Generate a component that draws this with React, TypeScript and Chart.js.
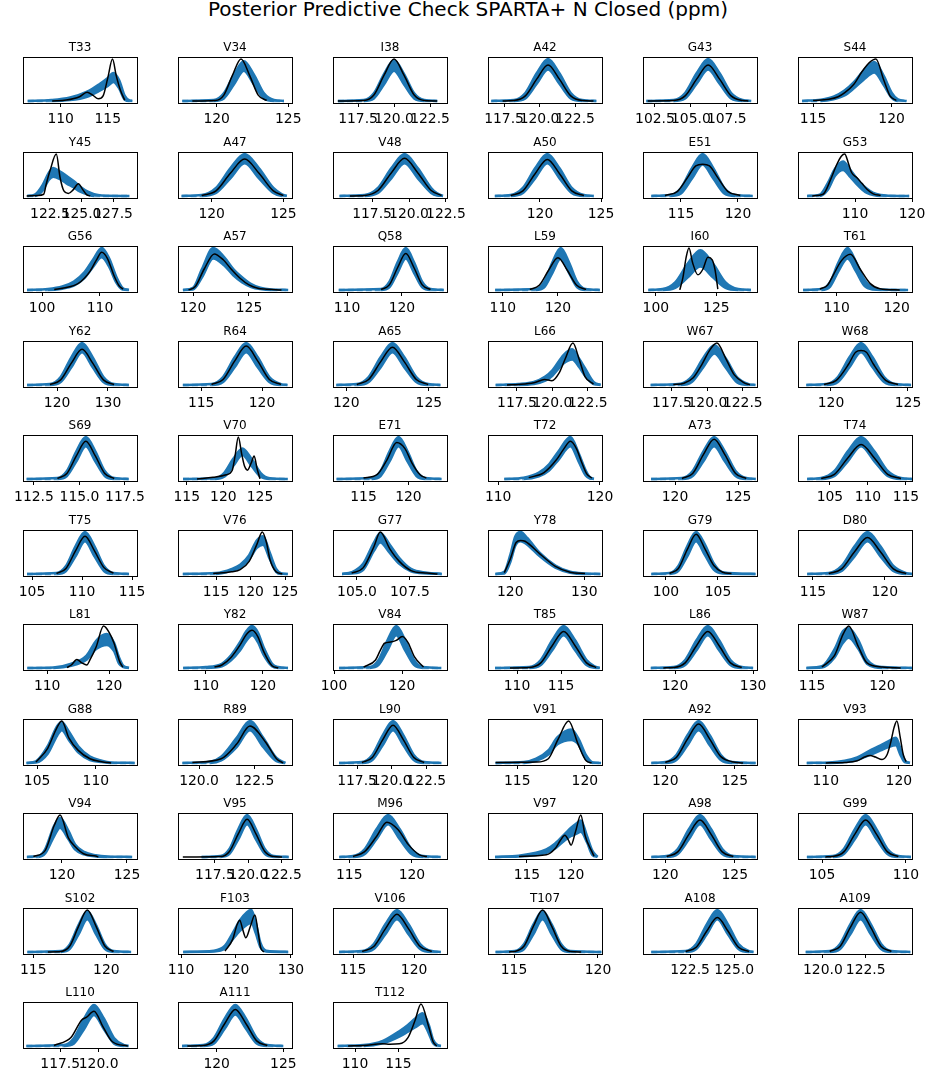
import React, { useEffect, useRef } from "react";
import { Chart, registerables } from "chart.js";

Chart.register(...registerables);
Chart.defaults.font.family = "'DejaVu Sans', sans-serif";

const figureTitle = "Posterior Predictive Check SPARTA+ N Closed (ppm)";

const residues = [
  "T33", "V34", "I38", "A42", "G43", "S44",
  "Y45", "A47", "V48", "A50", "E51", "G53",
  "G56", "A57", "Q58", "L59", "I60", "T61",
  "Y62", "R64", "A65", "L66", "W67", "W68",
  "S69", "V70", "E71", "T72", "A73", "T74",
  "T75", "V76", "G77", "Y78", "G79", "D80",
  "L81", "Y82", "V84", "T85", "L86", "W87",
  "G88", "R89", "L90", "V91", "A92", "V93",
  "V94", "V95", "M96", "V97", "A98", "G99",
  "S102", "F103", "V106", "T107", "A108", "A109",
  "L110", "A111", "T112",
];

const xLimits: number[][] = [
  [106.0, 118.1], [117.3, 125.26], [115.76, 123.68], [116.37, 124.4], [101.67, 109.6], [114.04, 121.3],
  [120.36, 129.4], [117.65, 125.6], [114.86, 122.57], [115.74, 125.08], [111.67, 121.67], [100, 120],
  [96.7, 116.4], [118.66, 128.84], [107.45, 128.2], [107.3, 128], [94.7, 141.8], [103.55, 122.55],
  [113.3, 135.7], [113.1, 122.46], [119.2, 126.1], [115.46, 123.5], [115.46, 123.5], [117.86, 125.26],
  [111.9, 118.16], [113.81, 129.37], [111.6, 124.3], [109.0, 120.2], [117.46, 126.5], [100.8, 115.8],
  [104.1, 115.5], [109.5, 126.0], [103.87, 109.25], [117.0, 132.4], [97.8, 108.75], [113.96, 121.9],
  [106.1, 124.5], [105.1, 125.1], [99.7, 133.2], [106.7, 119.66], [115.9, 130.5], [114.0, 122.1],
  [103.8, 113.5], [119.05, 124.2], [115.76, 124.0], [112.84, 121.27], [118.4, 126.6], [106.2, 121.8],
  [117.0, 125.77], [114.74, 123.25], [113.7, 122.8], [110.6, 123.5], [118.4, 126.6], [103.57, 110.36],
  [114.3, 122.1], [109.45, 130.2], [113.36, 122.7], [113.45, 120.24], [119.83, 126.3], [118.55, 125.2],
  [115.08, 122.5], [117.1, 125.65], [107.46, 120.6],
];

const xTicks: number[][] = [
  [110, 115], [120, 125], [117.5, 120, 122.5], [117.5, 120, 122.5], [102.5, 105, 107.5], [115, 120],
  [122.5, 125, 127.5], [120, 125], [117.5, 120, 122.5], [120, 125], [115, 120], [110, 120],
  [100, 110], [120, 125], [110, 120], [110, 120], [100, 125], [110, 120],
  [120, 130], [115, 120], [120, 125], [117.5, 120, 122.5], [117.5, 120, 122.5], [120, 125],
  [112.5, 115, 117.5], [115, 120, 125], [115, 120], [110, 120], [120, 125], [105, 110, 115],
  [105, 110, 115], [115, 120, 125], [105, 107.5], [120, 130], [100, 105], [115, 120],
  [110, 120], [110, 120], [100, 120], [110, 115], [120, 130], [115, 120],
  [105, 110], [120, 122.5], [117.5, 120, 122.5], [115, 120], [120, 125], [110, 120],
  [120, 125], [117.5, 120, 122.5], [115, 120], [115, 120], [120, 125], [105, 110],
  [115, 120], [110, 120, 130], [115, 120], [115, 120], [122.5, 125], [120, 122.5],
  [117.5, 120], [120, 125], [110, 115],
];

// commonly read band profiles (relative density)
const HI = [0, 0.02, 0.19, 0.66, 1, 0.66, 0.19, 0.02, 0];
const LO = [0, 0, 0.07, 0.42, 0.78, 0.42, 0.07, 0, 0];
const LO75 = [0, 0, 0.06, 0.41, 0.75, 0.41, 0.06, 0, 0];

const bandX: number[][] = [
  [106.5, 109.0, 111.0, 112.8, 114.1, 115.0, 115.6, 116.2, 116.8, 117.3, 117.6],
  [117.6, 119.8, 120.5, 121.2, 121.9, 122.6, 123.3, 124.0, 124.7],
  [116.1, 117.9, 118.6, 119.3, 120, 120.7, 121.4, 122.1, 123],
  [116.6, 118.2, 119.0, 119.8, 120.6, 121.4, 122.2, 123.0, 124.0],
  [101.9, 103.8, 104.6, 105.4, 106.2, 107.0, 107.8, 108.6, 109.2],
  [114.3, 115.5, 116.3, 117.0, 117.6, 118.2, 118.9, 119.5, 120.0, 120.4, 120.96],
  [120.7, 121.3, 121.9, 122.4, 122.75, 123.3, 123.8, 124.4, 124.9, 125.5, 126.0, 126.6, 128.8],
  [117.9, 119.3, 120.3, 121.3, 122.3, 123.3, 124.3, 124.9, 125.24],
  [115.3, 117.0, 117.9, 118.8, 119.7, 120.6, 121.5, 121.9, 122.3],
  [116.3, 117.6, 118.6, 119.6, 120.6, 121.6, 122.6, 123.6, 124.4],
  [112.4, 114.05, 115.0, 115.95, 116.9, 117.85, 118.8, 119.75, 121.3],
  [101.6, 103.8, 105.2, 106.5, 107.9, 109.2, 110.3, 111.2, 112.1, 113.2, 114.5, 116.0, 119.5],
  [97.4, 101.0, 103.5, 105.5, 107.3, 108.8, 110.3, 111.6, 112.8, 113.9, 115.0],
  [119.1, 120.0, 120.8, 121.8, 122.8, 123.6, 124.4, 125.2, 126.0, 127.0, 128.5],
  [108.5, 116.2, 117.7, 119.2, 120.7, 122.2, 123.7, 125.2, 127.6],
  [108.6, 116.0, 117.5, 119.0, 120.5, 122.0, 123.5, 125.0, 127.6],
  [96.9, 102.8, 108.0, 113.2, 118.4, 123.6, 128.8, 134.0, 139.3],
  [104.4, 107.5, 108.9, 110.3, 111.8, 113.2, 114.6, 116.0, 117.5, 121.9],
  [114.1, 118.6, 120.7, 122.8, 124.9, 127.0, 129.1, 131.2, 134.1],
  [113.5, 115.85, 116.8, 117.75, 118.7, 119.65, 120.6, 121.55, 122.1],
  [119.4, 120.64, 121.36, 122.08, 122.8, 123.52, 124.24, 124.96, 125.7],
  [116.0, 117.6, 118.7, 119.5, 120.0, 120.8, 121.4, 121.9, 122.3, 122.9, 123.4],
  [116.0, 118.1, 118.9, 119.7, 120.5, 121.3, 122.1, 122.9, 123.4],
  [118.4, 119.7, 120.45, 121.2, 121.95, 122.7, 123.45, 124.2, 125.2],
  [112.1, 113.79, 114.31, 114.83, 115.35, 115.87, 116.39, 116.91, 117.7],
  [114.5, 118.85, 120.1, 121.35, 122.6, 123.85, 125.1, 126.35, 128.8],
  [112.0, 115.9, 116.9, 117.9, 118.9, 119.9, 120.9, 121.9, 123.7],
  [110.6, 112.5, 114.0, 115.0, 115.9, 117.1, 117.9, 118.6, 119.0, 119.4],
  [118.1, 120.55, 121.4, 122.25, 123.1, 123.95, 124.8, 125.65, 126.4],
  [102.0, 103.85, 105.6, 107.35, 109.1, 110.85, 112.6, 114.35, 115.8],
  [104.5, 107.45, 108.4, 109.35, 110.3, 111.25, 112.2, 113.15, 114.7],
  [110.2, 115.0, 117.3, 118.5, 119.8, 120.9, 121.8, 122.8, 123.7, 124.5, 125.4],
  [104.3, 104.75, 105.3, 105.8, 106.1, 106.55, 107.0, 107.55, 108.3, 109.0],
  [118.0, 119.2, 120.0, 120.7, 121.4, 122.3, 124.0, 126.1, 128.1, 130.1, 132.2],
  [98.6, 100.35, 101.2, 102.05, 102.9, 103.75, 104.6, 105.45, 108.6],
  [114.6, 116.1, 117.0, 117.9, 118.8, 119.7, 120.6, 121.5, 121.9],
  [106.8, 111.0, 113.9, 116.4, 117.9, 119.6, 120.8, 121.6, 122.3, 123.2],
  [106.0, 110.0, 112.8, 114.4, 116.0, 117.1, 118.1, 119.1, 120.1, 121.6, 122.7, 124.4],
  [101.5, 110.5, 113.1, 115.7, 118.3, 120.9, 123.5, 126.1, 131.5],
  [107.5, 111.4, 112.7, 114.0, 115.3, 116.6, 117.9, 118.8, 119.4],
  [116.9, 119.85, 121.3, 122.75, 124.2, 125.65, 127.1, 128.55, 130.0],
  [114.6, 115.7, 116.6, 117.2, 117.6, 118.3, 118.9, 120.0, 122.1],
  [104.1, 104.9, 105.9, 106.7, 107.1, 107.7, 108.5, 109.5, 110.5, 111.3, 113.3],
  [119.25, 120.5, 121.0, 121.7, 122.3, 122.9, 123.5, 123.9],
  [116.2, 117.85, 118.6, 119.35, 120.1, 120.85, 121.6, 122.35, 123.6],
  [113.4, 115.5, 116.4, 117.3, 118.0, 119.0, 119.5, 120.1, 120.6, 121.2],
  [119.0, 120.0, 120.8, 121.6, 122.4, 123.2, 124.0, 124.8, 126.5],
  [107.4, 110.5, 112.6, 114.3, 115.9, 117.5, 118.6, 119.6, 120.2, 120.8, 121.5],
  [117.3, 118.2, 118.7, 119.4, 119.85, 120.5, 121.0, 121.7, 122.6, 123.5, 125.4],
  [116.5, 117.92, 118.58, 119.24, 119.9, 120.56, 121.22, 121.88, 123.0],
  [114.2, 115.3, 116.24, 117.17, 118.1, 119.03, 119.96, 120.89, 122.3],
  [111.4, 114.1, 117.2, 118.2, 119.3, 120.0, 120.6, 121.1, 121.8, 122.4, 123.0],
  [119.0, 120.1, 120.9, 121.7, 122.5, 123.3, 124.1, 124.9, 126.5],
  [104.1, 105.65, 106.3, 106.95, 107.6, 108.25, 108.9, 109.55, 110.3],
  [114.6, 116.9, 117.5, 118.1, 118.7, 119.3, 119.9, 120.5, 121.7],
  [110.4, 116.0, 118.0, 119.4, 120.7, 122.0, 122.8, 123.6, 124.5, 125.5, 129.5],
  [113.85, 115.75, 116.7, 117.65, 118.6, 119.55, 120.5, 121.45, 122.2],
  [113.9, 115.05, 115.6, 116.15, 116.7, 117.25, 117.8, 118.35, 120.2],
  [120.3, 122.25, 122.85, 123.45, 124.05, 124.65, 125.25, 125.85, 126.1],
  [119.0, 120.4, 121.0, 121.6, 122.2, 122.8, 123.4, 124.0, 125.1],
  [115.3, 117.75, 118.4, 119.05, 119.7, 120.35, 121.0, 121.65, 121.95],
  [117.4, 119.0, 119.8, 120.6, 121.4, 122.2, 123.0, 123.8, 125.0],
  [108.0, 111.0, 113.2, 115.1, 116.1, 116.9, 117.8, 118.5, 119.0, 119.5, 119.9],
];

const bandHi: number[][] = [
  [0, 0.02, 0.08, 0.22, 0.4, 0.55, 0.67, 0.5, 0.12, 0.01, 0],
  [0, 0.02, 0.18, 0.63, 0.95, 0.63, 0.18, 0.02, 0],
  [0, 0.02, 0.18, 0.64, 0.97, 0.64, 0.18, 0.02, 0],
  HI,
  HI,
  [0, 0.03, 0.1, 0.25, 0.45, 0.72, 0.93, 0.6, 0.2, 0.04, 0],
  [0, 0.03, 0.25, 0.55, 0.67, 0.58, 0.48, 0.35, 0.22, 0.1, 0.04, 0.01, 0],
  [0, 0.02, 0.19, 0.66, 1, 0.66, 0.19, 0.04, 0],
  [0, 0.02, 0.19, 0.66, 1, 0.66, 0.19, 0.06, 0],
  HI,
  HI,
  [0, 0.03, 0.3, 0.65, 0.82, 0.62, 0.42, 0.28, 0.17, 0.07, 0.02, 0.005, 0],
  [0, 0.02, 0.08, 0.2, 0.42, 0.72, 1, 0.75, 0.32, 0.05, 0],
  [0, 0.05, 0.5, 1, 0.78, 0.5, 0.3, 0.14, 0.05, 0.01, 0],
  HI,
  HI,
  [0, 0.02, 0.18, 0.63, 0.95, 0.63, 0.18, 0.02, 0],
  [0, 0.02, 0.19, 0.66, 1, 0.68, 0.25, 0.05, 0.01, 0],
  HI,
  HI,
  HI,
  [0, 0.02, 0.07, 0.2, 0.35, 0.72, 0.85, 0.62, 0.4, 0.07, 0],
  [0, 0.03, 0.2, 0.64, 0.95, 0.63, 0.18, 0.02, 0],
  HI,
  HI,
  [0, 0.015, 0.14, 0.48, 0.73, 0.48, 0.14, 0.015, 0],
  HI,
  [0, 0.03, 0.15, 0.35, 0.65, 1, 0.62, 0.2, 0.04, 0],
  HI,
  HI,
  HI,
  [0, 0.02, 0.12, 0.22, 0.45, 0.8, 0.9, 0.5, 0.12, 0.01, 0],
  [0, 0.04, 0.25, 0.75, 0.98, 0.7, 0.38, 0.12, 0.03, 0],
  [0, 0.05, 0.45, 0.9, 1, 0.86, 0.5, 0.2, 0.05, 0.01, 0],
  [0, 0.02, 0.19, 0.66, 1, 0.7, 0.25, 0.04, 0],
  HI,
  [0, 0.01, 0.1, 0.3, 0.65, 0.81, 0.6, 0.25, 0.05, 0],
  [0, 0.02, 0.1, 0.3, 0.62, 0.88, 1, 0.85, 0.5, 0.1, 0.02, 0],
  HI,
  [0, 0.02, 0.19, 0.66, 1, 0.66, 0.19, 0.04, 0],
  HI,
  [0, 0.04, 0.45, 0.88, 0.95, 0.65, 0.2, 0.02, 0],
  [0, 0.04, 0.4, 0.88, 0.98, 0.75, 0.4, 0.15, 0.05, 0.01, 0],
  [0, 0.03, 0.15, 0.6, 1, 0.6, 0.12, 0],
  HI,
  [0, 0.02, 0.1, 0.3, 0.62, 0.8, 0.6, 0.18, 0.01, 0],
  HI,
  [0, 0.01, 0.05, 0.13, 0.28, 0.42, 0.52, 0.6, 0.35, 0.06, 0],
  [0, 0.02, 0.18, 0.75, 0.93, 0.62, 0.3, 0.12, 0.04, 0.01, 0],
  HI,
  HI,
  [0, 0.03, 0.18, 0.32, 0.55, 0.7, 0.8, 0.87, 0.5, 0.15, 0],
  HI,
  HI,
  [0, 0.02, 0.18, 0.64, 0.97, 0.64, 0.18, 0.02, 0],
  [0, 0.03, 0.15, 0.45, 0.75, 0.95, 1, 0.7, 0.2, 0.03, 0],
  HI,
  [0, 0.02, 0.19, 0.65, 0.98, 0.65, 0.19, 0.02, 0],
  HI,
  HI,
  [0, 0.02, 0.19, 0.65, 0.98, 0.65, 0.19, 0.02, 0],
  [0, 0.02, 0.19, 0.65, 0.98, 0.65, 0.19, 0.02, 0],
  [0, 0.02, 0.12, 0.35, 0.5, 0.65, 0.78, 0.5, 0.15, 0.02, 0],
];

const bandLo: number[][] = [
  [0, 0, 0.02, 0.1, 0.24, 0.36, 0.45, 0.3, 0.03, 0, 0],
  [0, 0, 0.06, 0.39, 0.72, 0.39, 0.06, 0, 0],
  [0, 0, 0.06, 0.39, 0.72, 0.39, 0.06, 0, 0],
  LO75,
  LO75,
  [0, 0, 0.04, 0.13, 0.3, 0.5, 0.68, 0.38, 0.08, 0, 0],
  [0, 0, 0.12, 0.38, 0.46, 0.4, 0.3, 0.2, 0.1, 0.03, 0, 0, 0],
  LO,
  [0, 0, 0.07, 0.42, 0.78, 0.42, 0.07, 0.01, 0],
  LO,
  LO75,
  [0, 0, 0.14, 0.48, 0.62, 0.45, 0.28, 0.16, 0.07, 0.02, 0, 0, 0],
  [0, 0, 0.03, 0.1, 0.28, 0.55, 0.78, 0.55, 0.18, 0.01, 0],
  [0, 0.01, 0.3, 0.75, 0.58, 0.35, 0.18, 0.07, 0.02, 0, 0],
  LO75,
  LO75,
  [0, 0, 0.05, 0.3, 0.56, 0.3, 0.05, 0, 0],
  [0, 0, 0.08, 0.45, 0.75, 0.45, 0.1, 0.01, 0, 0],
  LO,
  LO,
  LO,
  [0, 0, 0.02, 0.1, 0.22, 0.52, 0.61, 0.42, 0.22, 0.02, 0],
  [0, 0, 0.07, 0.42, 0.75, 0.41, 0.06, 0, 0],
  LO,
  LO,
  [0, 0, 0.05, 0.31, 0.57, 0.31, 0.05, 0, 0],
  LO,
  [0, 0, 0.06, 0.2, 0.45, 0.78, 0.42, 0.08, 0.01, 0],
  LO,
  LO,
  LO,
  [0, 0, 0.08, 0.15, 0.35, 0.62, 0.7, 0.35, 0.05, 0, 0],
  [0, 0.01, 0.1, 0.55, 0.75, 0.5, 0.24, 0.06, 0.01, 0],
  [0, 0.01, 0.28, 0.68, 0.78, 0.7, 0.42, 0.15, 0.03, 0, 0],
  [0, 0, 0.07, 0.42, 0.78, 0.45, 0.1, 0.01, 0],
  LO,
  [0, 0, 0.05, 0.2, 0.45, 0.55, 0.4, 0.1, 0.02, 0],
  [0, 0, 0.04, 0.18, 0.42, 0.65, 0.78, 0.62, 0.32, 0.04, 0, 0],
  LO,
  [0, 0, 0.07, 0.42, 0.78, 0.42, 0.07, 0.005, 0],
  LO,
  [0, 0.01, 0.25, 0.6, 0.72, 0.45, 0.1, 0, 0],
  [0, 0.01, 0.22, 0.65, 0.78, 0.55, 0.25, 0.07, 0.02, 0, 0],
  [0, 0, 0.06, 0.38, 0.78, 0.38, 0.04, 0],
  LO,
  [0, 0, 0.05, 0.2, 0.45, 0.55, 0.45, 0.08, 0, 0],
  LO,
  [0, 0, 0.02, 0.07, 0.18, 0.3, 0.38, 0.42, 0.2, 0.02, 0],
  [0, 0, 0.08, 0.5, 0.7, 0.42, 0.18, 0.06, 0.01, 0, 0],
  LO,
  LO,
  [0, 0.01, 0.1, 0.2, 0.4, 0.5, 0.55, 0.6, 0.35, 0.05, 0],
  LO,
  LO,
  LO,
  [0, 0.01, 0.08, 0.3, 0.5, 0.65, 0.7, 0.45, 0.1, 0.01, 0],
  LO,
  LO,
  LO,
  LO,
  [0, 0, 0.06, 0.4, 0.74, 0.4, 0.06, 0, 0],
  LO75,
  [0, 0, 0.06, 0.22, 0.34, 0.44, 0.54, 0.3, 0.06, 0, 0],
];

const obsX: number[][] = [
  [109.1, 110.6, 112.0, 112.8, 113.4, 114.0, 114.5, 115.0, 115.5, 115.9, 116.35, 116.8],
  [118.3, 119.9, 120.5, 121.1, 121.7, 122.3, 122.9, 123.5],
  [116.1, 117.9, 118.6, 119.3, 120, 120.7, 121.4, 122.1, 123],
  [117.4, 118.2, 119.0, 119.8, 120.6, 121.4, 122.2, 123.0, 123.8],
  [102.0, 103.8, 104.6, 105.4, 106.2, 107.0, 107.8, 108.6, 109.0],
  [115.0, 116.0, 116.6, 117.0, 117.6, 118.1, 118.6, 119.0, 119.5, 119.9, 120.3],
  [120.65, 121.5, 122.0, 122.2, 122.5, 123.0, 123.3, 123.6, 123.95, 124.35, 124.75, 125.1, 125.4, 125.7],
  [119.3, 120.3, 121.3, 122.3, 123.3, 124.3, 125.0],
  [116.0, 117.0, 117.9, 118.8, 119.7, 120.6, 121.5, 122.2],
  [117.6, 118.6, 119.6, 120.6, 121.6, 122.6, 123.6],
  [113.6, 114.7, 115.6, 116.3, 116.9, 117.5, 118.2, 119.1, 120.2],
  [102.5, 104.4, 105.75, 106.8, 107.6, 108.2, 108.8, 109.4, 110.3, 111.2, 112.1, 113.2, 114.5],
  [102.1, 104.0, 106.2, 107.3, 108.3, 109.4, 110.3, 111.3, 112.4, 113.3, 114.0],
  [119.6, 120.2, 121.0, 121.9, 122.7, 123.4, 124.2, 125.0, 125.8, 126.4, 127.9],
  [116.2, 117.7, 119.2, 120.7, 122.2, 123.7, 125.2],
  [114.9, 116.6, 118.3, 120.0, 121.7, 123.4, 125.1],
  [109.9, 111.2, 112.6, 113.7, 115.2, 117.4, 119.5, 121.5, 123.3, 124.4, 125.2, 125.6],
  [107.2, 108.5, 109.4, 110.8, 112.3, 113.9, 115.6, 117.2, 120.5],
  [118.6, 120.7, 122.8, 124.9, 127.0, 129.1, 131.2],
  [115.85, 116.8, 117.75, 118.7, 119.65, 120.6, 121.55],
  [120.64, 121.36, 122.08, 122.8, 123.52, 124.24, 124.96],
  [116.8, 117.6, 118.7, 119.45, 119.97, 120.5, 120.9, 121.45, 121.9, 122.3, 122.9],
  [117.6, 118.35, 119.0, 119.6, 120.2, 120.67, 121.3, 121.9, 122.6, 123.0],
  [119.55, 120.35, 121.15, 121.6, 121.95, 122.3, 122.75, 123.55, 124.35],
  [113.79, 114.31, 114.83, 115.35, 115.87, 116.39, 116.91],
  [116.4, 118.6, 120.4, 121.2, 121.6, 122.04, 122.5, 122.9, 123.3, 123.8, 124.2, 124.6, 125.0],
  [115.0, 116.5, 117.6, 118.7, 119.6, 120.4, 121.3, 122.0],
  [113.0, 114.5, 115.7, 116.4, 117.1, 117.7, 118.2, 118.7, 119.2],
  [120.55, 121.4, 122.25, 123.1, 123.95, 124.8, 125.65],
  [103.85, 105.6, 107.35, 109.1, 110.85, 112.6, 114.35],
  [107.45, 108.4, 109.35, 110.3, 111.25, 112.2, 113.15],
  [114.6, 117.3, 118.5, 119.8, 120.9, 121.7, 122.3, 122.8, 123.7, 124.6],
  [104.75, 105.3, 105.8, 106.1, 106.55, 107.0, 107.55, 108.3, 108.8],
  [119.2, 120.0, 120.8, 121.4, 122.0, 124.0, 126.1, 128.1, 130.1],
  [100.35, 101.2, 102.05, 102.9, 103.75, 104.6, 105.45, 106.3],
  [116.1, 117.0, 117.9, 118.8, 119.7, 120.6, 121.5],
  [113.2, 113.9, 114.8, 115.6, 116.4, 116.9, 117.9, 119.1, 120.0, 120.8, 121.7, 122.2],
  [111.5, 112.8, 114.4, 116.0, 117.1, 118.1, 119.1, 120.1, 121.6, 122.7],
  [108.7, 112.2, 113.6, 114.85, 116.6, 118.3, 120.1, 121.8, 123.6, 126.3],
  [109.2, 111.4, 112.7, 114.0, 115.3, 116.6, 117.9, 119.0],
  [118.5, 119.85, 121.3, 122.75, 124.2, 125.65, 127.1, 128.55],
  [115.7, 116.6, 117.2, 117.6, 118.3, 118.9, 120.0, 121.3],
  [104.9, 105.9, 106.7, 107.1, 107.7, 108.5, 109.5, 110.5, 111.3],
  [119.7, 121.0, 121.7, 122.3, 123.0, 123.5, 123.8],
  [117.85, 118.6, 119.35, 120.1, 120.85, 121.6, 122.35],
  [113.4, 116.4, 117.3, 118.0, 118.8, 119.5, 120.1, 120.5],
  [120.0, 120.8, 121.6, 122.4, 123.2, 124.0, 124.8, 125.6],
  [110.0, 112.6, 114.3, 115.3, 116.06, 116.8, 117.7, 118.4, 118.9, 119.35, 119.73, 120.2, 120.6, 121.0],
  [117.8, 118.7, 119.4, 119.85, 120.5, 121.0, 121.7, 122.6, 122.8],
  [115.1, 117.92, 118.58, 119.24, 119.9, 120.56, 121.22, 121.88, 122.5],
  [115.3, 116.2, 117.2, 118.0, 118.9, 119.7, 120.6, 121.2],
  [114.1, 117.2, 118.2, 118.8, 119.3, 119.7, 120.0, 120.5, 121.1, 121.6, 122.3, 122.6],
  [120.1, 120.9, 121.7, 122.5, 123.3, 124.1, 124.9],
  [105.2, 105.65, 106.3, 106.95, 107.6, 108.25, 108.9, 109.55],
  [116.0, 116.9, 117.5, 118.1, 118.7, 119.3, 119.9, 120.5],
  [118.0, 119.4, 120.2, 120.7, 121.2, 121.8, 122.6, 123.45, 124.0, 124.5, 125.1],
  [115.75, 116.7, 117.65, 118.6, 119.55, 120.5, 121.45],
  [114.7, 115.05, 115.6, 116.15, 116.7, 117.25, 117.8, 118.35, 119.0],
  [122.25, 122.85, 123.45, 124.05, 124.65, 125.25, 125.85],
  [120.4, 121.0, 121.6, 122.2, 122.8, 123.4, 124.0],
  [117.1, 118.2, 118.9, 119.2, 119.7, 120.3, 120.9, 121.9],
  [117.8, 119.0, 119.8, 120.6, 121.4, 122.2, 123.0, 123.8],
  [109.2, 111.0, 113.2, 114.0, 115.1, 116.1, 116.9, 117.6, 118.5, 119.0, 119.4],
];

const obsY: number[][] = [
  [0, 0.02, 0.1, 0.21, 0.14, 0.05, 0.12, 0.55, 1, 0.6, 0.25, 0.02],
  [0, 0.01, 0.14, 0.61, 1, 0.61, 0.14, 0.01],
  [0, 0.01, 0.14, 0.61, 1, 0.61, 0.14, 0.01, 0],
  [0, 0.01, 0.12, 0.52, 0.86, 0.52, 0.12, 0.01, 0],
  [0, 0.01, 0.12, 0.52, 0.86, 0.52, 0.12, 0.01, 0],
  [0.01, 0.04, 0.1, 0.19, 0.4, 0.69, 0.92, 1, 0.5, 0.12, 0.01],
  [0, 0.01, 0.04, 0.28, 0.6, 1, 0.44, 0.12, 0.06, 0.15, 0.29, 0.15, 0.03, 0],
  [0.01, 0.12, 0.54, 0.88, 0.54, 0.12, 0.01],
  [0, 0.01, 0.13, 0.55, 0.9, 0.55, 0.13, 0.01],
  [0.01, 0.12, 0.53, 0.87, 0.53, 0.12, 0.01],
  [0.01, 0.11, 0.45, 0.72, 0.76, 0.72, 0.45, 0.11, 0.01],
  [0, 0.04, 0.4, 0.75, 0.95, 1, 0.8, 0.56, 0.44, 0.3, 0.16, 0.05, 0.01],
  [0.01, 0.05, 0.15, 0.28, 0.45, 0.72, 0.9, 0.75, 0.35, 0.1, 0.02],
  [0, 0.08, 0.5, 0.86, 0.72, 0.5, 0.28, 0.12, 0.04, 0.02, 0],
  [0.01, 0.12, 0.53, 0.87, 0.53, 0.12, 0.01],
  [0.01, 0.11, 0.47, 0.77, 0.47, 0.11, 0.01],
  [0, 0.3, 0.8, 1, 0.65, 0.36, 0.5, 0.78, 0.72, 0.5, 0.2, 0.02],
  [0.02, 0.12, 0.35, 0.7, 0.85, 0.5, 0.15, 0.03, 0],
  [0.01, 0.12, 0.52, 0.85, 0.52, 0.12, 0.01],
  [0.01, 0.13, 0.57, 0.93, 0.57, 0.13, 0.01],
  [0.01, 0.13, 0.55, 0.9, 0.55, 0.13, 0.01],
  [0, 0.01, 0.05, 0.13, 0.1, 0.3, 0.62, 1, 0.6, 0.2, 0.02],
  [0.01, 0.04, 0.17, 0.48, 0.85, 1, 0.63, 0.24, 0.05, 0],
  [0.01, 0.11, 0.5, 0.78, 0.82, 0.78, 0.5, 0.11, 0.01],
  [0.01, 0.13, 0.55, 0.9, 0.55, 0.13, 0.01],
  [0, 0.04, 0.1, 0.2, 0.55, 1, 0.6, 0.3, 0.21, 0.38, 0.55, 0.25, 0],
  [0.02, 0.1, 0.45, 0.87, 0.73, 0.38, 0.1, 0.02],
  [0.03, 0.15, 0.45, 0.7, 0.9, 0.72, 0.4, 0.12, 0.02],
  [0.01, 0.13, 0.58, 0.95, 0.58, 0.13, 0.01],
  [0.01, 0.11, 0.5, 0.82, 0.5, 0.11, 0.01],
  [0.01, 0.13, 0.55, 0.9, 0.55, 0.15, 0.02],
  [0.01, 0.05, 0.1, 0.3, 0.7, 1, 0.75, 0.35, 0.05, 0],
  [0.02, 0.15, 0.65, 1, 0.6, 0.3, 0.08, 0.02, 0],
  [0.03, 0.35, 0.75, 0.8, 0.78, 0.48, 0.18, 0.04, 0.01],
  [0.01, 0.13, 0.58, 0.95, 0.6, 0.2, 0.04, 0.01],
  [0.01, 0.12, 0.53, 0.87, 0.53, 0.12, 0.01],
  [0.01, 0.07, 0.2, 0.12, 0.07, 0.19, 0.5, 1, 0.85, 0.59, 0.15, 0.02],
  [0.02, 0.07, 0.25, 0.55, 0.8, 0.9, 0.75, 0.4, 0.05, 0],
  [0.02, 0.19, 0.42, 0.59, 0.62, 0.66, 0.75, 0.6, 0.27, 0.02],
  [0, 0.01, 0.12, 0.53, 0.87, 0.53, 0.12, 0.01],
  [0, 0.01, 0.12, 0.53, 0.87, 0.53, 0.12, 0.01],
  [0.02, 0.3, 0.8, 1, 0.5, 0.12, 0.02, 0],
  [0.02, 0.35, 0.85, 1, 0.6, 0.3, 0.1, 0.03, 0],
  [0.01, 0.1, 0.45, 0.88, 0.5, 0.1, 0],
  [0.01, 0.13, 0.55, 0.9, 0.55, 0.13, 0.01],
  [0.01, 0.02, 0.1, 0.55, 1, 0.45, 0.05, 0],
  [0.01, 0.13, 0.57, 0.93, 0.57, 0.15, 0.03, 0],
  [0, 0.01, 0.05, 0.14, 0.18, 0.14, 0.08, 0.2, 0.5, 0.85, 1, 0.6, 0.2, 0.03],
  [0.01, 0.15, 0.75, 1, 0.45, 0.25, 0.07, 0.02, 0],
  [0, 0.01, 0.13, 0.55, 0.9, 0.55, 0.13, 0.01, 0],
  [0.01, 0.12, 0.5, 0.83, 0.65, 0.3, 0.05, 0.01],
  [0.01, 0.05, 0.2, 0.4, 0.52, 0.4, 0.28, 0.6, 1, 0.5, 0.15, 0.02],
  [0.01, 0.12, 0.54, 0.88, 0.54, 0.12, 0.01],
  [0, 0.01, 0.12, 0.54, 0.88, 0.54, 0.12, 0.01],
  [0, 0.01, 0.14, 0.61, 1, 0.61, 0.14, 0.01],
  [0.02, 0.3, 0.65, 0.76, 0.55, 0.34, 0.6, 0.88, 0.5, 0.1, 0],
  [0.01, 0.13, 0.55, 0.9, 0.55, 0.13, 0.01],
  [0, 0.01, 0.14, 0.61, 1, 0.61, 0.14, 0.01, 0],
  [0.01, 0.11, 0.5, 0.82, 0.5, 0.11, 0.01],
  [0.01, 0.13, 0.58, 0.95, 0.58, 0.13, 0.01],
  [0.01, 0.2, 0.62, 0.68, 0.83, 0.45, 0.1, 0],
  [0, 0.01, 0.12, 0.53, 0.87, 0.53, 0.12, 0.01],
  [0, 0.01, 0.05, 0.04, 0.05, 0.2, 0.6, 1, 0.45, 0.1, 0],
];

const BLUE = "#1f77b4";
const BLUE_DASH = "rgba(31,119,180,0.75)";
const FONT = "'DejaVu Sans', sans-serif";

const BOX_L0 = 23;
const COL_STEP = 155;
const BOX_T0 = 57;
const ROW_STEP = 94.5;
const BOX_W = 114;
const BOX_H = 46;
const PADX = 26;
const TITLE_H = 22;
const AXIS_H = 26;
const CW = BOX_W + 2 * PADX;
const CH = TITLE_H + BOX_H + AXIS_H;

const framePlugin = {
  id: "frame",
  afterDatasetsDraw(chart: any) {
    const { ctx, chartArea: a } = chart;
    ctx.save();
    ctx.strokeStyle = "#000";
    ctx.lineWidth = 1;
    ctx.strokeRect(a.left + 0.5, a.top + 0.5, a.right - a.left, a.bottom - a.top);
    ctx.restore();
  },
};

const zeroDash = {
  borderDash: (c: any) => (c.p0.parsed.y === 0 && c.p1.parsed.y === 0 ? [6, 3] : undefined),
  borderColor: (c: any) => (c.p0.parsed.y === 0 && c.p1.parsed.y === 0 ? BLUE_DASH : undefined),
};

function Panel({ i }: { i: number }) {
  const ref = useRef<HTMLCanvasElement | null>(null);
  useEffect(() => {
    const el = ref.current;
    if (!el) return;
    const ticks = xTicks[i];
    const dec = ticks.some((v) => !Number.isInteger(v)) ? 1 : 0;
    const bx = bandX[i];
    const chart = new Chart(el, {
      type: "line",
      data: {
        datasets: [
          {
            label: "observed",
            data: obsX[i].map((x, k) => ({ x, y: obsY[i][k] })),
            borderColor: "#000",
            borderWidth: 1.5,
            fill: false,
            pointRadius: 0,
            cubicInterpolationMode: "monotone",
            order: 0,
          },
          {
            label: "posterior predictive upper",
            data: bx.map((x, k) => ({ x, y: bandHi[i][k] })),
            borderColor: BLUE,
            backgroundColor: BLUE,
            borderWidth: 2.5,
            fill: "+1",
            pointRadius: 0,
            cubicInterpolationMode: "monotone",
            segment: zeroDash,
            order: 1,
          },
          {
            label: "posterior predictive lower",
            data: bx.map((x, k) => ({ x, y: bandLo[i][k] })),
            borderColor: BLUE,
            borderWidth: 2.5,
            fill: false,
            pointRadius: 0,
            cubicInterpolationMode: "monotone",
            segment: zeroDash,
            order: 2,
          },
        ],
      } as any,
      options: {
        animation: false,
        responsive: false,
        maintainAspectRatio: false,
        devicePixelRatio: 1,
        events: [],
        layout: { padding: { left: PADX, right: PADX, top: 0, bottom: 0 } },
        plugins: {
          legend: { display: false },
          tooltip: { enabled: false },
          title: {
            display: true,
            text: residues[i],
            color: "#000",
            font: { family: FONT, size: 12, weight: "normal", lineHeight: "14px" } as any,
            padding: { top: 6, bottom: 2 },
          },
        },
        scales: {
          x: {
            type: "linear",
            min: xLimits[i][0],
            max: xLimits[i][1],
            afterBuildTicks: (s: any) => {
              s.ticks = ticks.map((v) => ({ value: v }));
            },
            afterFit: (s: any) => {
              s.height = AXIS_H;
            },
            ticks: {
              autoSkip: false,
              maxRotation: 0,
              minRotation: 0,
              color: "#000",
              padding: 4,
              font: { family: FONT, size: 13.9 },
              callback: (v: any) => Number(v).toFixed(dec),
            },
            grid: {
              drawOnChartArea: false,
              drawTicks: true,
              tickLength: 4,
              tickColor: "#000",
              tickWidth: 1,
            },
            border: { display: false },
          },
          y: { display: false, min: -0.05, max: 1.05 },
        },
      } as any,
      plugins: [framePlugin],
    });
    return () => chart.destroy();
  }, [i]);

  const col = i % 6;
  const row = Math.floor(i / 6);
  const left = BOX_L0 + col * COL_STEP - PADX;
  const top = Math.round(BOX_T0 + row * ROW_STEP) - TITLE_H;
  return (
    <canvas
      ref={ref}
      width={CW}
      height={CH}
      style={{ position: "absolute", left, top, width: CW, height: CH }}
    />
  );
}

export default function App() {
  return (
    <div style={{ position: "absolute", left: 0, top: 0, width: 936, height: 1080, background: "#fff" }}>
      <div
        style={{
          position: "absolute",
          left: 0,
          top: -1,
          width: 936,
          textAlign: "center",
          fontFamily: FONT,
          fontSize: 20,
          lineHeight: "20px",
          color: "#000",
          whiteSpace: "nowrap",
        }}
      >
        {figureTitle}
      </div>
      {residues.map((r, i) => (
        <Panel key={r} i={i} />
      ))}
    </div>
  );
}
